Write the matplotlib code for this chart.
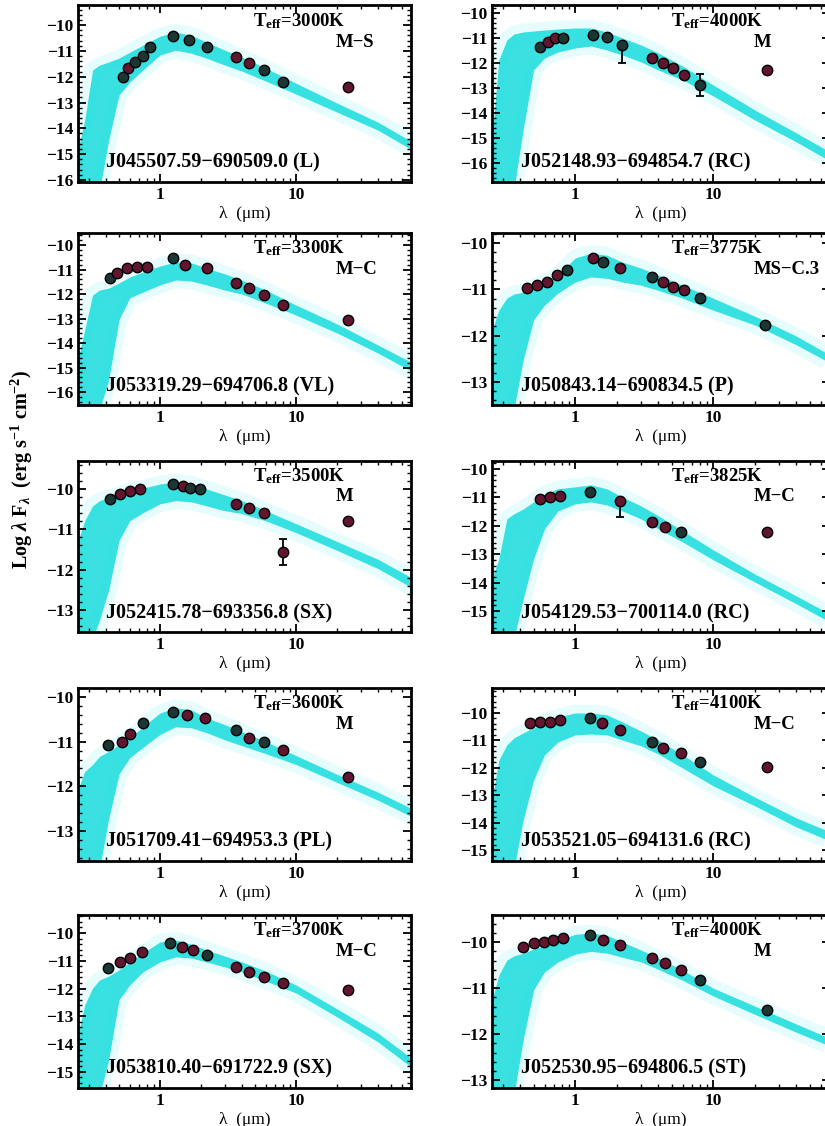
import matplotlib
matplotlib.use("Agg")
import matplotlib.pyplot as plt
from matplotlib.ticker import LogLocator, NullFormatter, FuncFormatter, MultipleLocator, AutoMinorLocator

plt.rcParams["font.family"] = ["Liberation Serif", "DejaVu Serif"]
plt.rcParams["font.weight"] = "bold"
plt.rcParams["mathtext.fontset"] = "custom"
plt.rcParams["mathtext.rm"] = "Liberation Serif:bold"
plt.rcParams["mathtext.it"] = "Liberation Serif:italic:bold"
plt.rcParams["mathtext.bf"] = "Liberation Serif:bold"

# ---------- DATA ----------

# model wavelength grid (micron), shared by all panels
wl_grid = [0.25, 0.28, 0.32, 0.36, 0.42, 0.5, 0.6, 0.75, 1.0, 1.3, 1.7, 2.2,
           3.0, 4.0, 6.0, 10, 20, 40, 70]

# upper / lower envelope of the model band (log lambda F_lambda)
A_hi = [-14.84, -13.68, -11.74, -11.55, -11.43, -11.28, -11.05, -10.78, -10.43, -10.27,
        -10.39, -10.66, -10.97, -11.24, -11.67, -12.25, -13.02, -13.76, -14.50]
A_lo = [-16.4, -16.4, -16.4, -16.4, -14.46, -12.71, -12.21, -11.74, -11.16, -10.97,
        -11.09, -11.28, -11.55, -11.78, -12.17, -12.67, -13.37, -14.07, -14.81]
B_hi = [-15.08, -11.88, -11.08, -10.84, -10.76, -10.72, -10.68, -10.64, -10.6, -10.6,
        -10.76, -11.0, -11.28, -11.6, -12.12, -12.88, -13.88, -14.8, -15.56]
B_lo = [-17.08, -17.08, -17.08, -17.08, -14.68, -12.28, -11.8, -11.56, -11.4, -11.32,
        -11.48, -11.68, -11.96, -12.28, -12.68, -13.32, -14.28, -15.16, -15.92]
C_hi = [-14.69, -13.47, -12.04, -11.84, -11.76, -11.55, -11.31, -11.1, -10.86, -10.69,
        -10.73, -10.94, -11.18, -11.43, -11.84, -12.45, -13.22, -14.08, -14.78]
C_lo = [-16.73, -16.73, -16.73, -16.73, -15.51, -13.06, -12.16, -11.92, -11.63, -11.43,
        -11.47, -11.63, -11.84, -12.0, -12.37, -12.86, -13.59, -14.41, -15.14]
D_hi = [-11.88, -11.45, -11.19, -11.10, -11.06, -10.95, -10.84, -10.69, -10.32, -10.22,
        -10.26, -10.41, -10.54, -10.69, -10.91, -11.19, -11.58, -12.01, -12.42]
D_lo = [-13.61, -13.61, -13.61, -13.61, -12.53, -11.66, -11.34, -11.08, -10.84, -10.73,
        -10.76, -10.84, -10.91, -11.02, -11.19, -11.45, -11.77, -12.2, -12.59]
E_hi = [-11.28, -10.79, -10.42, -10.29, -10.22, -10.15, -10.05, -9.98, -9.88, -9.83,
        -9.88, -10.0, -10.15, -10.29, -10.54, -10.86, -11.3, -11.74, -12.19]
E_lo = [-13.73, -13.73, -13.73, -13.24, -12.51, -11.28, -10.79, -10.59, -10.37, -10.29,
        -10.32, -10.42, -10.54, -10.61, -10.79, -11.08, -11.52, -11.97, -12.43]
F_hi = [-13.87, -13.17, -11.76, -11.58, -11.41, -11.16, -10.88, -10.70, -10.63, -10.56,
        -10.70, -10.99, -11.30, -11.65, -12.18, -12.85, -13.70, -14.47, -15.11]
F_lo = [-15.99, -15.99, -15.99, -15.99, -14.58, -13.17, -12.11, -11.48, -11.23, -11.16,
        -11.27, -11.48, -11.76, -12.11, -12.57, -13.20, -13.98, -14.75, -15.39]
G_hi = [-12.07, -11.67, -11.51, -11.33, -11.22, -11.07, -10.91, -10.67, -10.36, -10.24,
        -10.29, -10.47, -10.62, -10.78, -11.0, -11.31, -11.73, -12.13, -12.49]
G_lo = [-13.84, -13.84, -13.84, -13.84, -12.73, -11.73, -11.36, -11.13, -10.84, -10.67,
        -10.69, -10.8, -10.96, -11.09, -11.27, -11.51, -11.91, -12.31, -12.67]
H_hi = [-13.18, -11.72, -11.17, -10.91, -10.73, -10.55, -10.33, -10.15, -10.0, -10.0,
        -10.07, -10.33, -10.66, -10.99, -11.53, -12.26, -13.07, -13.83, -14.34]
H_lo = [-15.73, -15.73, -15.73, -15.73, -13.91, -12.45, -11.53, -11.06, -10.80, -10.77,
        -10.80, -10.99, -11.20, -11.50, -12.01, -12.66, -13.39, -14.16, -14.67]
I_hi = [-13.67, -12.59, -11.98, -11.69, -11.55, -11.33, -11.04, -10.72, -10.32, -10.25,
        -10.40, -10.61, -10.83, -11.04, -11.37, -11.87, -12.73, -13.60, -14.50]
I_lo = [-15.83, -15.83, -15.83, -15.83, -14.57, -12.41, -11.87, -11.40, -11.04, -10.86,
        -10.90, -11.04, -11.22, -11.40, -11.73, -12.16, -13.02, -13.92, -14.82]
J_hi = [-11.26, -10.72, -10.39, -10.30, -10.24, -10.15, -10.07, -9.96, -9.83, -9.80,
        -9.85, -10.0, -10.17, -10.35, -10.61, -11.0, -11.39, -11.78, -12.09]
J_lo = [-13.33, -13.33, -13.33, -13.33, -12.13, -11.04, -10.65, -10.43, -10.26, -10.20,
        -10.24, -10.33, -10.43, -10.59, -10.83, -11.17, -11.57, -11.96, -12.26]

# photometry: wavelength (micron), log flux, fill code (m = maroon, d = dark)
A_wl = [0.535, 0.58, 0.655, 0.75, 0.84, 1.25, 1.63, 2.2, 3.6, 4.5, 5.8, 8.0, 24]
A_f = [-12.02, -11.67, -11.43, -11.2, -10.85, -10.43, -10.58, -10.85, -11.24, -11.47, -11.74, -12.21, -12.4]
A_c = "dmddddddmmddm"
B_wl = [0.56, 0.64, 0.72, 0.82, 1.35, 1.71, 2.19, 3.6, 4.3, 5.1, 6.1, 8.0, 24.6]
B_f = [-11.36, -11.16, -11.0, -11.0, -10.88, -10.96, -11.28, -11.8, -12.0, -12.2, -12.48, -12.88, -12.28]
B_c = "dmmddddmmmmdm"
C_wl = [0.43, 0.48, 0.57, 0.68, 0.80, 1.25, 1.53, 2.2, 3.6, 4.5, 5.8, 8.0, 24]
C_f = [-11.35, -11.14, -10.94, -10.90, -10.90, -10.53, -10.82, -10.94, -11.55, -11.76, -12.04, -12.45, -13.06]
C_c = "dmmmmdmmmmmmm"
D_wl = [0.45, 0.53, 0.63, 0.74, 0.875, 1.35, 1.6, 2.12, 3.6, 4.3, 5.1, 6.1, 8.0, 23.8]
D_f = [-10.97, -10.91, -10.84, -10.69, -10.58, -10.32, -10.41, -10.54, -10.73, -10.84, -10.95, -11.02, -11.19, -11.77]
D_c = "mmmmdmdmdmmmdd"
E_wl = [0.43, 0.51, 0.60, 0.71, 1.25, 1.48, 1.66, 1.97, 3.6, 4.5, 5.8, 8.0, 24]
E_f = [-10.25, -10.12, -10.05, -10.0, -9.88, -9.93, -9.98, -10.0, -10.37, -10.47, -10.59, -11.57, -10.79]
E_c = "dmmmdmddmmmmm"
F_wl = [0.56, 0.66, 0.78, 1.28, 2.12, 3.6, 4.5, 5.8, 24.6]
F_f = [-11.06, -10.99, -10.95, -10.81, -11.13, -11.87, -12.04, -12.22, -12.22]
F_c = "mmmdmmmdm"
G_wl = [0.415, 0.53, 0.60, 0.75, 1.25, 1.58, 2.14, 3.6, 4.5, 5.8, 8.0, 24]
G_f = [-11.07, -11.0, -10.84, -10.58, -10.33, -10.4, -10.47, -10.73, -10.91, -11.0, -11.18, -11.78]
G_c = "dmmddmmdmdmm"
H_wl = [0.47, 0.56, 0.66, 0.78, 1.28, 1.57, 2.12, 3.6, 4.3, 5.8, 8.0, 24.6]
H_f = [-10.36, -10.33, -10.33, -10.26, -10.18, -10.36, -10.62, -11.06, -11.28, -11.46, -11.79, -11.97]
H_c = "mmmmdmmdmmdm"
I_wl = [0.415, 0.51, 0.60, 0.74, 1.18, 1.45, 1.75, 2.22, 3.6, 4.5, 5.8, 8.0, 24]
I_f = [-11.26, -11.04, -10.90, -10.68, -10.36, -10.5, -10.61, -10.79, -11.22, -11.40, -11.58, -11.80, -12.05]
I_c = "dmmmdmmdmmmmm"
J_wl = [0.42, 0.50, 0.59, 0.69, 0.82, 1.28, 1.6, 2.12, 3.6, 4.5, 5.8, 8.0, 24.6]
J_f = [-10.11, -10.02, -10.0, -9.96, -9.91, -9.85, -9.96, -10.07, -10.35, -10.46, -10.61, -10.83, -11.48]
J_c = "mmmmmdmmmmmdd"

# error bars: panel index, wavelength, value, lower, upper
err_panel = [1, 1, 4, 5]
err_wl = [2.19, 8.0, 8.0, 2.12]
err_val = [-11.28, -12.88, -11.57, -11.13]
err_lo = [0.72, 0.44, 0.32, 0.56]
err_hi = [0.0, 0.44, 0.32, 0.0]

teff = [3000, 4000, 3300, 3775, 3500, 3825, 3600, 4100, 3700, 4000]
spec_class = ["M\u2212S", "M", "M\u2212C", "MS\u2212C.3", "M", "M\u2212C", "M", "M\u2212C", "M\u2212C", "M"]
names = ["J045507.59\u2212690509.0 (L)", "J052148.93\u2212694854.7 (RC)",
         "J053319.29\u2212694706.8 (VL)", "J050843.14\u2212690834.5 (P)",
         "J052415.78\u2212693356.8 (SX)", "J054129.53\u2212700114.0 (RC)",
         "J051709.41\u2212694953.3 (PL)", "J053521.05\u2212694131.6 (RC)",
         "J053810.40\u2212691722.9 (SX)", "J052530.95\u2212694806.5 (ST)"]

y_limits = [(-16.08, -9.22), (-16.76, -9.68), (-16.53, -9.51), (-13.5, -9.78),
            (-13.54, -9.31), (-15.74, -9.72), (-13.67, -9.8), (-15.40, -9.09),
            (-15.58, -9.35), (-13.17, -9.41)]

model_hi = [A_hi, B_hi, C_hi, D_hi, E_hi, F_hi, G_hi, H_hi, I_hi, J_hi]
model_lo = [A_lo, B_lo, C_lo, D_lo, E_lo, F_lo, G_lo, H_lo, I_lo, J_lo]
phot_wl = [A_wl, B_wl, C_wl, D_wl, E_wl, F_wl, G_wl, H_wl, I_wl, J_wl]
phot_f = [A_f, B_f, C_f, D_f, E_f, F_f, G_f, H_f, I_f, J_f]
phot_c = [A_c, B_c, C_c, D_c, E_c, F_c, G_c, H_c, I_c, J_c]

# ---------- LAYOUT (pixels of the 825x1126 canvas) ----------
W, H = 825, 1126
row_top = [5, 233, 461, 688, 915]
row_bot = [182, 405, 632, 861, 1088]
col_left = [78, 492]
col_right = [411, 830]

fill_colors = {"m": "#62152e", "d": "#1c3535"}

fig = plt.figure(figsize=(W / 100, H / 100), dpi=100)

for k in range(10):
    row, col = k // 2, k % 2
    x0 = col_left[col] / W
    w = (col_right[col] - col_left[col]) / W
    y0 = 1 - row_bot[row] / H
    h = (row_bot[row] - row_top[row]) / H
    ax = fig.add_axes([x0, y0, w, h])

    # model band with a soft halo around it
    ax.fill_between(wl_grid, model_lo[k], model_hi[k], facecolor="none",
                    edgecolor="#7ff4f4", lw=12, alpha=0.18, zorder=1)
    ax.fill_between(wl_grid, model_lo[k], model_hi[k], color="#18dcdc", lw=0, alpha=0.85, zorder=1)

    # error bars
    for p, ew, ev, el, eh in zip(err_panel, err_wl, err_val, err_lo, err_hi):
        if p == k:
            ax.errorbar([ew], [ev], yerr=[[el], [eh]], fmt="none", ecolor="black",
                        elinewidth=1.3, capsize=3, capthick=1.3, zorder=2)

    # photometry
    for wv, fv, cc in zip(phot_wl[k], phot_f[k], phot_c[k]):
        ax.plot(wv, fv, "o", ms=7.5, mfc=fill_colors[cc], mec="black", mew=1.0, zorder=3)

    ax.set_xscale("log")
    ax.set_xlim(0.25, 70)
    ax.set_ylim(*y_limits[k])

    ax.xaxis.set_major_locator(LogLocator(base=10))
    ax.xaxis.set_major_formatter(FuncFormatter(lambda v, p: f"{v:g}"))
    ax.xaxis.set_minor_locator(LogLocator(base=10, subs=range(2, 10)))
    ax.xaxis.set_minor_formatter(NullFormatter())
    ax.yaxis.set_major_locator(MultipleLocator(1))
    ax.yaxis.set_minor_locator(AutoMinorLocator(5))

    ax.tick_params(which="both", direction="in", top=True, right=True, labelsize=12.5)
    ax.tick_params(which="major", length=6, width=1.3)
    ax.tick_params(which="minor", length=3, width=1.0)
    for s in ax.spines.values():
        s.set_linewidth(2.0)

    ax.set_xlabel("\u03bb  (\u03bcm)", fontsize=12.5, labelpad=2)

    ax.text(0.665, 0.91, r"T$_{\rm eff}$=" + f"{teff[k]}K", transform=ax.transAxes,
            ha="center", va="center", fontsize=13.5)
    ax.text(0.775, 0.79, spec_class[k], transform=ax.transAxes,
            ha="left", va="center", fontsize=13.5)
    ax.text(0.085, 0.11, names[k], transform=ax.transAxes,
            ha="left", va="center", fontsize=14.5)

fig.text(0.027, 0.583, r"Log $\lambda$ F$_\lambda$  (erg s$^{-1}$ cm$^{-2}$)",
         rotation=90, ha="center", va="center", fontsize=14.5)

fig.savefig("out.png", dpi=100)
